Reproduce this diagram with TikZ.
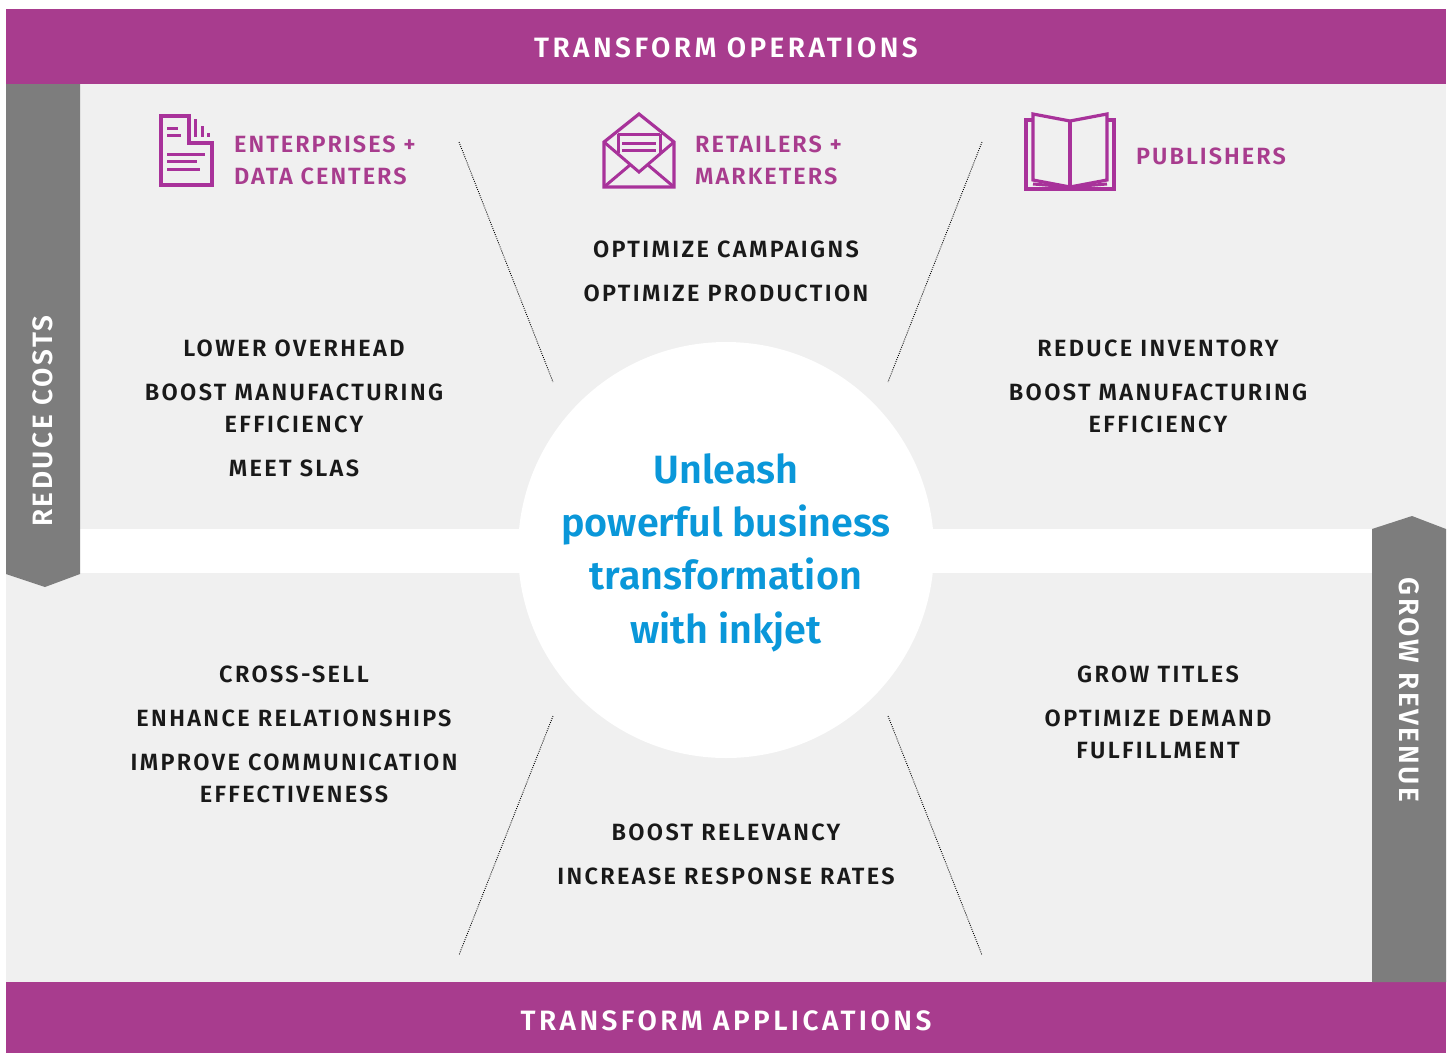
\documentclass[tikz,border=0pt]{standalone}
\usepackage{fontspec}
\setmainfont{Fira Sans}
\newfontfamily\bodyf[LetterSpace=10]{Fira Sans SemiBold}
\newfontfamily\segf[LetterSpace=8.5]{Fira Sans SemiBold}
\newfontfamily\bandf[LetterSpace=12.3]{Fira Sans SemiBold}
\newfontfamily\sidef[LetterSpace=9]{Fira Sans SemiBold}
\newfontfamily\hubf{Fira Sans SemiBold}
\definecolor{plum}{HTML}{A83C8E}
\definecolor{iconplum}{HTML}{A8329A}
\definecolor{panel}{HTML}{F0F0F0}
\definecolor{slate}{HTML}{7D7D7D}
\definecolor{inkblue}{HTML}{0A97D9}
\tikzset{
  x=1pt,y=-1pt,
  body/.style={font=\bodyf\fontsize{23.5}{32}\selectfont,text=black!90,align=center,inner sep=0pt},
  band/.style={font=\bandf\fontsize{28}{32}\selectfont,text=white,inner sep=0pt},
  side/.style={font=\sidef\fontsize{28}{32}\selectfont,text=white,inner sep=0pt},
  seg/.style={font=\segf\fontsize{23.5}{32}\selectfont,text=plum,align=left,inner sep=0pt,anchor=west},
  icon/.style={draw=iconplum,line width=3.2pt,line join=miter},
  iconthin/.style={draw=iconplum,line width=3pt},
  divider/.style={draw=black,line width=.9pt,dash pattern=on .9pt off 1.3pt},
}
\begin{document}
\begin{tikzpicture}
\useasboundingbox (0,0) rectangle (1451,1053);
\fill[white] (0,0) rectangle (1451,1053);
% panels
\fill[panel] (6,84) rectangle (1446,529);
\fill[panel] (6,573) rectangle (1446,982);
% bands
\fill[plum] (6,9) rectangle (1446,84);
\fill[plum] (6,982) rectangle (1446,1053);
\node[band] (top) at (726,47.5) {TRANSFORM OPERATIONS};
\node[band] (bot) at (726,1020.5) {TRANSFORM APPLICATIONS};
% side arrows
\fill[slate] (6,84) -- (80,84) -- (80,574) -- (45,587) -- (6,574) -- cycle;
\fill[slate] (1372,982) -- (1372,529) -- (1412,516) -- (1446,529) -- (1446,982) -- cycle;
\node[side,rotate=90] (left) at (43,421) {REDUCE COSTS};
\node[side,rotate=-90] (right) at (1409,690) {GROW REVENUE};
% circle
\node[circle,fill=white,minimum size=416pt,inner sep=0pt] (hub) at (726,550) {};
\node[font=\hubf\fontsize{39.5}{53.4}\selectfont,text=inkblue,align=center,inner sep=0pt] (hubtext) at (726,552.5) {Unleash\\powerful business\\transformation\\with inkjet};
% dividers
\coordinate (d1a) at (459,142); \coordinate (d1b) at (553,382);
\coordinate (d2a) at (982,142); \coordinate (d2b) at (888,382);
\coordinate (d3a) at (553,716); \coordinate (d3b) at (459,955);
\coordinate (d4a) at (888,716); \coordinate (d4b) at (982,955);
\draw[divider] (d1a) -- (d1b);
\draw[divider] (d2a) -- (d2b);
\draw[divider] (d3a) -- (d3b);
\draw[divider] (d4a) -- (d4b);
% segment headings
\node[seg] (s1) at (234,160) {ENTERPRISES +\\DATA CENTERS};
\node[seg] (s2) at (695,160) {RETAILERS +\\MARKETERS};
\node[seg] (s3) at (1136,156) {PUBLISHERS};
% body texts
\node[body] (o1) at (726,249) {OPTIMIZE CAMPAIGNS};
\node[body] (o2) at (726,293) {OPTIMIZE PRODUCTION};
\node[body] (a1) at (294,348) {LOWER OVERHEAD};
\node[body] (a2) at (294,408) {BOOST MANUFACTURING\\EFFICIENCY};
\node[body] (a3) at (294,468) {MEET SLAS};
\node[body] (b1) at (1158,348) {REDUCE INVENTORY};
\node[body] (b2) at (1158,408) {BOOST MANUFACTURING\\EFFICIENCY};
\node[body] (c1) at (294,674) {CROSS-SELL};
\node[body] (c2) at (294,718) {ENHANCE RELATIONSHIPS};
\node[body] (c3) at (294,778) {IMPROVE COMMUNICATION\\EFFECTIVENESS};
\node[body] (e1) at (1158,674) {GROW TITLES};
\node[body] (e2) at (1158,734) {OPTIMIZE DEMAND\\FULFILLMENT};
\node[body] (f1) at (726,832) {BOOST RELEVANCY};
\node[body] (f2) at (726,876) {INCREASE RESPONSE RATES};
% document icon
\draw[icon] (161,116) -- (189,116) -- (189,143) -- (212,143) -- (212,185) -- (161,185) -- cycle;
\draw[iconthin] (167,128) -- (178,128) (167,135) -- (181,135)
  (167,154) -- (205,154) (167,161) -- (197,161) (167,169) -- (200,169);
\draw[iconthin] (195,119) -- (195,137) (202,126) -- (202,137) (208,133) -- (208,137);
% envelope icon
\draw[icon] (604,142) -- (639,114) -- (674,142) -- (674,187) -- (604,187) -- cycle;
\draw[iconthin] (604,142) -- (639,172) -- (674,142);
\draw[iconthin] (604,187) -- (630,165) (674,187) -- (648,165);
\draw[iconthin] (618,134) -- (660,134) (618,134) -- (618,153) (660,134) -- (660,153);
\draw[iconthin] (622,143) -- (656,143) (622,150) -- (656,150);
% book icon
\draw[icon] (1033,114) -- (1070,121) -- (1107,114) -- (1107,180) -- (1070,187) -- (1033,180) -- cycle;
\draw[icon] (1070,121) -- (1070,187);
\draw[icon] (1033,120) -- (1026,120) -- (1026,189) -- (1114,189) -- (1114,120) -- (1107,120);
\draw[iconthin] (1033,184) -- (1070,187) -- (1107,184);
\end{tikzpicture}
\end{document}
